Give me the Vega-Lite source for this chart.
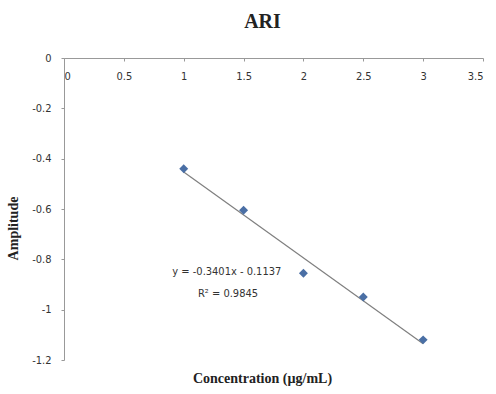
{
  "$schema": "https://vega.github.io/schema/vega-lite/v6.json",
  "width": 419,
  "height": 302,
  "autosize": {"type": "none"},
  "padding": {"left": 64, "top": 58, "right": 13, "bottom": 34},
  "background": "white",
  "title": {"text": "ARI", "font": "Liberation Serif", "fontSize": 20, "fontWeight": "bold", "color": "#222", "dx": -11, "offset": 20},
  "config": {"view": {"stroke": null}, "axis": {"grid": false}},
  "datasets": {
    "pts": [
      {"conc": 1, "amp": -0.44},
      {"conc": 1.5, "amp": -0.605},
      {"conc": 2, "amp": -0.855},
      {"conc": 2.5, "amp": -0.95},
      {"conc": 3, "amp": -1.12}
    ],
    "notes": [
      {"conc": 1.36, "amp": -0.852, "label": "y = -0.3401x - 0.1137"},
      {"conc": 1.37, "amp": -0.936, "label": "R² = 0.9845"}
    ]
  },
  "layer": [
    {
      "data": {"name": "pts"},
      "transform": [{"regression": "amp", "on": "conc"}],
      "mark": {"type": "line", "color": "#7f7f7f", "strokeWidth": 1.2},
      "encoding": {
        "x": {"field": "conc", "type": "quantitative", "scale": {"domain": [0, 3.5]},
          "axis": {"orient": "bottom", "offset": -302, "values": [0, 0.5, 1, 1.5, 2, 2.5, 3, 3.5], "labelExpr": "'' + datum.value", "domainColor": "#999", "tickColor": "#999", "tickSize": 3, "labelPadding": 9, "labelFont": "Liberation Sans Narrow, DejaVu Sans Condensed, sans-serif", "labelFontSize": 11, "labelColor": "#333",
            "title": "Concentration (µg/mL)", "titleFont": "Liberation Serif", "titleFontSize": 14, "titleFontWeight": "bold", "titleColor": "#222", "titleX": 198, "titleY": 320, "titleBaseline": "middle"}},
        "y": {"field": "amp", "type": "quantitative", "scale": {"domain": [-1.2, 0]},
          "axis": {"values": [0, -0.2, -0.4, -0.6, -0.8, -1, -1.2], "labelExpr": "'' + datum.value", "domainColor": "#999", "tickColor": "#999", "tickSize": 3, "labelPadding": 10, "labelFont": "Liberation Sans Narrow, DejaVu Sans Condensed, sans-serif", "labelFontSize": 11, "labelColor": "#333",
            "title": "Amplitude", "titleFont": "Liberation Serif", "titleFontSize": 14, "titleFontWeight": "bold", "titleColor": "#222", "titleX": -44, "titleY": 170}}
      }
    },
    {
      "data": {"name": "pts"},
      "mark": {"type": "point", "shape": "diamond", "filled": true, "color": "#4a6fa5", "size": 80, "opacity": 1},
      "encoding": {
        "x": {"field": "conc", "type": "quantitative"},
        "y": {"field": "amp", "type": "quantitative"}
      }
    },
    {
      "data": {"name": "notes"},
      "mark": {"type": "text", "font": "Liberation Sans Narrow, DejaVu Sans Condensed, sans-serif", "fontSize": 11, "color": "#333", "align": "center", "baseline": "middle"},
      "encoding": {
        "x": {"field": "conc", "type": "quantitative"},
        "y": {"field": "amp", "type": "quantitative"},
        "text": {"field": "label"}
      }
    }
  ]
}
